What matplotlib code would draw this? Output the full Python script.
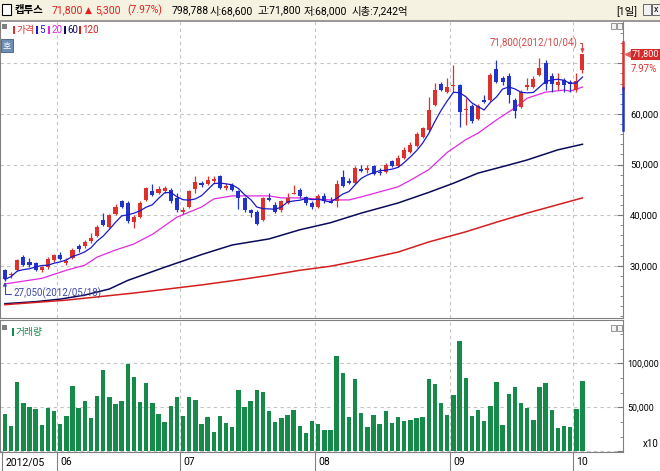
import matplotlib
matplotlib.use('Agg')
import matplotlib.pyplot as plt
import matplotlib.transforms as mtransforms
from matplotlib import font_manager
from matplotlib.patches import Rectangle
from matplotlib.ticker import MultipleLocator, FixedLocator, FuncFormatter
import numpy as np
import pandas as pd

names = {f.name for f in font_manager.fontManager.ttflist}
NARROW = 'Roboto' if 'Roboto' in names else 'DejaVu Sans'
FAM = [NARROW, 'Noto Sans CJK KR', 'DejaVu Sans']
plt.rcParams['font.family'] = FAM
KR = ['Noto Sans CJK KR', 'DejaVu Sans']

# daily candles, 2012/05/18 .. 2012/10/04
opens = [29100, 28100, 29100, 31800, 30800, 30600, 29100, 29700, 31100, 32100,
         30500, 31600, 33800, 33800, 34800, 35900, 39100, 37700, 40300, 42700,
         42400, 38600, 39700, 43000, 44700, 44300, 44700, 45000, 43300, 40700,
         41700, 45100, 46300, 46200, 46700, 47700, 45300, 46000, 44700, 43300,
         41000, 40700, 39100, 43300, 42000, 41000, 42300, 44200, 45000, 43500,
         42300, 41700, 43800, 42800, 42800, 47600, 46800, 46300, 49200, 49000,
         49700, 48600, 48600, 50600, 49700, 51200, 52400, 53700, 55400, 56800,
         61800, 65900, 64400, 65500, 65700, 60800, 61600, 59000, 62800, 62800,
         68800, 67000, 67400, 62800, 61400, 65300, 65400, 67700, 70000, 67500,
         65700, 66700, 66400, 64700, 68600]
highs = [29300, 28700, 31300, 32100, 31600, 30800, 30000, 31700, 32400, 32800,
         31500, 33500, 34300, 35100, 36400, 38000, 40400, 40300, 42100, 43000,
         42700, 40000, 42700, 45600, 46200, 45700, 45700, 45300, 44300, 41700,
         44900, 47700, 46700, 47800, 47800, 47900, 46300, 46300, 45000, 43600,
         41300, 41000, 43600, 44300, 42500, 43000, 44300, 46000, 45300, 43800,
         42700, 44100, 44300, 43600, 46900, 48900, 47300, 49700, 49900, 49900,
         49900, 49300, 50200, 50900, 51900, 53500, 54500, 56500, 57500, 63400,
         66100, 66300, 67000, 69700, 65900, 63100, 61900, 61900, 63700, 68000,
         70600, 67400, 68000, 63100, 64700, 67000, 67500, 71000, 70600, 68000,
         68000, 67000, 66700, 68000, 71800]
lows = [27050, 27600, 28900, 29900, 29800, 28900, 28800, 29400, 30800, 31200,
        30200, 31400, 32800, 33500, 34500, 35600, 37800, 37400, 40000, 41500,
        38500, 37500, 39400, 42700, 43800, 44100, 44300, 42400, 40700, 40300,
        41400, 44300, 45600, 45900, 46300, 45100, 45000, 44700, 41300, 40700,
        39700, 38100, 38900, 42700, 40500, 40700, 42100, 44100, 43400, 42000,
        41300, 41400, 42300, 42300, 41700, 45600, 46200, 46100, 48600, 48300,
        47900, 47900, 48400, 49500, 49500, 51000, 52200, 53500, 55200, 56500,
        61500, 64500, 64200, 64400, 57500, 57800, 58300, 58700, 62100, 62500,
        66200, 65700, 62100, 59100, 61200, 64700, 65200, 67400, 64700, 64400,
        64700, 64400, 64400, 64400, 68000]
closes = [27300, 28400, 31100, 30100, 30100, 29100, 29800, 31400, 32100, 31400,
          31000, 33200, 33400, 34700, 35400, 37700, 38100, 40000, 41700, 41700,
          38800, 39700, 42400, 45300, 44000, 45100, 45300, 42700, 41000, 41100,
          44700, 46500, 45900, 46900, 47100, 45300, 45700, 44900, 43300, 41000,
          40500, 38300, 43300, 43000, 40700, 42700, 43300, 44300, 43700, 42300,
          41700, 43800, 42700, 42400, 46100, 45800, 46300, 49400, 48700, 49400,
          48100, 48300, 49900, 49700, 51200, 52900, 53900, 56000, 57200, 60800,
          64800, 64800, 65300, 65700, 60300, 61000, 58600, 61600, 62400, 67700,
          66400, 66400, 63700, 60500, 64400, 65800, 66800, 69000, 66000, 66000,
          66400, 65800, 65900, 66500, 71800]
# volume in units of 10 shares
volumes = [42400, 28800, 78800, 54900, 50400, 48100, 29900, 49200, 45800, 31100,
           40200, 74200, 49200, 57200, 37900, 62900, 92400, 61700, 53800, 57200,
           99200, 84500, 56100, 77700, 54900, 42400, 33300, 51500, 61700, 40200,
           61700, 58300, 31100, 39000, 22000, 40200, 32200, 27700, 69700, 50400,
           57200, 69700, 67400, 45800, 33300, 37900, 41300, 47000, 28800, 20800,
           34500, 31100, 24200, 24200, 108300, 89000, 39000, 82200, 43600, 27700,
           41300, 31100, 45800, 32200, 39000, 34500, 35600, 37900, 39000, 82200,
           76500, 54900, 41300, 64000, 125400, 83300, 40200, 47000, 34500, 51500,
           78800, 29900, 65200, 73100, 54900, 49200, 35600, 73100, 77700, 47000,
           26500, 28800, 27700, 48100, 79900]

# moving averages (day index, value)
ma20_idx = [0, 6, 10, 13, 15, 18, 21, 24, 28, 32, 34, 37, 40, 43, 45, 48, 53, 56,
            58, 61, 64, 66, 69, 72, 75, 77, 80, 83, 85, 88, 91, 92, 94]
ma20_val = [26400, 27500, 29100, 30100, 31700, 33100, 34300, 36200, 39600, 41600,
            43200, 43800, 43800, 43800, 43400, 43400, 43000, 43000, 43600, 44600,
            45600, 46900, 49000, 52400, 54900, 56200, 58800, 61200, 63100, 64300,
            64700, 64500, 65300]
ma60_idx = [0, 5, 9, 13, 17, 20, 26, 32, 37, 43, 48, 53, 58, 64, 69, 73, 77, 82, 85, 90, 94]
ma60_val = [22500, 22900, 23400, 24200, 25400, 27100, 29700, 32200, 34100, 35300,
            37100, 38500, 40400, 42400, 44500, 46300, 48300, 49900, 50900, 52900, 54000]
ma120_idx = [0, 10, 21, 32, 38, 43, 48, 53, 58, 64, 69, 75, 80, 85, 91, 94]
ma120_val = [22300, 23200, 24600, 26200, 27200, 28100, 29100, 29900, 31100, 32700,
             34700, 36700, 38600, 40400, 42400, 43400]

month_labels = ['2012/05', '06', '07', '08', '09', '10']
month_start = [0, 9, 29, 51, 73, 93]

UP = '#E0302C'
DOWN = '#2233CC'
VOL = '#168A48'
GRID = '#C4C4C4'
EDGE = '#808080'

W, H = 660, 471
fig = plt.figure(figsize=(W / 100, H / 100), dpi=100)
fig.patch.set_facecolor('white')


def box(x0, y0, x1, y1):
    return [x0 / W, 1 - y1 / H, (x1 - x0) / W, (y1 - y0) / H]


def frect(x0, y0, x1, y1, **kw):
    fig.add_artist(Rectangle((x0 / W, 1 - y1 / H), (x1 - x0) / W, (y1 - y0) / H,
                             transform=fig.transFigure, **kw))


def ftext(x, y, s, **kw):
    fig.text(x / W, 1 - y / H, s, **kw)


# header bar
frect(0, 0, 660, 20, fc='#F5F2E1', ec='none')
frect(0, 20, 660, 22, fc='#9A9A9A', ec='none')
frect(2, 4, 11, 15, fc='white', ec='black', lw=0.8)
ftext(15, 10.5, '캡투스', fontsize=7.5, weight='bold', va='center', family=KR)
ftext(52, 10.5, '71,800', fontsize=7.5, color='#E02020', va='center')
ftext(85, 10.5, '▲', fontsize=6.5, color='#E02020', va='center', family=['DejaVu Sans'])
ftext(95, 10.5, '5,300', fontsize=7.5, color='#E02020', va='center')
ftext(127, 10.5, '(7.97%)', fontsize=7.5, color='#E02020', va='center')
ftext(172, 10.5, '798,788', fontsize=7.5, va='center')
ftext(210, 10.5, '시:68,600', fontsize=7.5, va='center')
ftext(257, 10.5, '고:71,800', fontsize=7.5, va='center')
ftext(304, 10.5, '저:68,000', fontsize=7.5, va='center')
ftext(352, 10.5, '시총:7,242억', fontsize=7.5, va='center')
ftext(616, 10.5, '[1일]', fontsize=7.5, va='center')
frect(643, 4, 651, 15, fc='#F2F2F2', ec='#505050', lw=0.6)
frect(652, 4, 660, 15, fc='#F2F2F2', ec='#505050', lw=0.6)
ftext(656, 10, 'x', fontsize=6.5, ha='center', va='center')

# price panel
ax = fig.add_axes(box(0, 22, 623, 318))
ax.set_xlim(-0.8, 100.6)
ax.set_ylim(19670, 78160)

idx = np.arange(len(closes))
o, h, l, c = map(np.array, (opens, highs, lows, closes))
col = np.where(c >= o, UP, DOWN)
ax.vlines(idx, l, h, colors=col, lw=0.9, zorder=4)
ax.bar(idx, np.maximum(np.abs(c - o), 200), bottom=np.minimum(o, c), width=0.66,
       color=col, lw=0, zorder=5)

ma5 = pd.Series(closes).rolling(5, min_periods=1).mean()
ax.plot(idx, ma5, color='#1A1AC8', lw=0.9, zorder=6)
ax.plot(ma20_idx, ma20_val, color='#E22AE2', lw=0.9, zorder=3)
ax.plot(ma60_idx, ma60_val, color='#0A0A5A', lw=1.1, zorder=3)
ax.plot(ma120_idx, ma120_val, color='#D41E1E', lw=1.1, zorder=3)

for m in month_start[1:]:
    ax.axvline(m - 0.5, color=GRID, lw=0.8, ls=(0, (3, 3)), zorder=1)
ax.yaxis.tick_right()
ax.yaxis.set_major_locator(FixedLocator([30000, 40000, 50000, 60000, 70000]))
ax.yaxis.set_minor_locator(MultipleLocator(2000))
ax.yaxis.set_major_formatter(FuncFormatter(lambda v, p: f'{int(v):,}' if v < 65000 else ''))
ax.grid(axis='y', which='major', color=GRID, lw=0.8, ls=(0, (3, 3)), zorder=1)
ax.tick_params(axis='y', which='both', direction='in', color='#777777', labelsize=6.8, pad=5)
ax.tick_params(axis='y', which='major', length=4)
ax.tick_params(axis='y', which='minor', length=2)
ax.set_xticks([])
for s in ['left', 'right', 'bottom']:
    ax.spines[s].set_color(EDGE)
ax.spines['top'].set_visible(False)

blend = mtransforms.blended_transform_factory(ax.transAxes, ax.transData)
ax.plot([1, 1], [65100, 74200], color=UP, lw=1.8, transform=blend, clip_on=False, zorder=7)
ax.plot([1, 1], [56800, 65100], color=DOWN, lw=1.8, transform=blend, clip_on=False, zorder=7)
ax.plot([1 + 5 / 623], [closes[-1]], marker='<', ms=4.5, color='#E06060', transform=blend,
        clip_on=False)
ax.text(1 + 9 / 623, closes[-1], f'{closes[-1]:,}', transform=blend, color='white',
        fontsize=6.6, ha='left', va='center',
        bbox=dict(boxstyle='square,pad=0.12', fc='#D42A2A', ec='none'))
ftext(657, 69, '7.97%', fontsize=7, color='#E03030', ha='right', va='center')

hi = int(np.argmax(h))
lo = int(np.argmin(l))
ax.annotate(f'{highs[hi]:,}(2012/10/04)', xy=(hi, highs[hi]), xytext=(-5, 11),
            textcoords='offset pixels', ha='right', va='center', fontsize=7, color='#D84848',
            arrowprops=dict(arrowstyle='-|>', color='#D84848', lw=0.8, mutation_scale=5,
                            connectionstyle='angle,angleA=0,angleB=90,rad=0',
                            shrinkA=0, shrinkB=1, relpos=(1, 0.5)))
ax.annotate(f'{lows[lo]:,}(2012/05/18)', xy=(lo, lows[lo]), xytext=(9, -13),
            textcoords='offset pixels', ha='left', va='center', fontsize=7, color='#3A48A8',
            arrowprops=dict(arrowstyle='-|>', color='#3A48A8', lw=0.8, mutation_scale=5,
                            connectionstyle='angle,angleA=0,angleB=90,rad=0',
                            shrinkA=0, shrinkB=1, relpos=(0, 0.5)))

# price legend and icons
frect(2, 24, 7, 29, fc='#808080', ec='none')
legend = [('가격', UP, 13), ('5', '#1A1AC8', 36), ('20', '#E22AE2', 48),
          ('60', '#0A0A5A', 64), ('120', '#D41E1E', 79)]
for name, color, lx in legend:
    frect(lx, 26, lx + 2, 34, fc=color, ec='none')
    ftext(lx + 3, 30, name, fontsize=7, color=color, va='center')
frect(1, 39, 13, 52, fc='#6E8EB5', ec='#3E5E85', lw=0.6)
ftext(7, 45.5, '호', fontsize=6.5, color='white', ha='center', va='center', family=KR)
for bx in (611, 617):
    frect(bx, 23, bx + 5, 29, fc='#F2F2F2', ec='#707070', lw=0.5)
    frect(bx, 325, bx + 5, 331, fc='#F2F2F2', ec='#707070', lw=0.5)

# volume panel
vax = fig.add_axes(box(0, 320, 623, 452))
vax.set_xlim(-0.8, 100.6)
vax.set_ylim(-800, 149200)
vax.bar(idx, volumes, width=0.72, color=VOL, lw=0, zorder=3)
for m in month_start[1:]:
    vax.axvline(m - 0.5, color=GRID, lw=0.8, ls=(0, (3, 3)), zorder=1)
vax.yaxis.tick_right()
vax.yaxis.set_major_locator(MultipleLocator(50000))
vax.yaxis.set_minor_locator(MultipleLocator(50000 / 3))
vax.yaxis.set_major_formatter(FuncFormatter(lambda v, p: f'{int(v):,}' if v > 0 else ''))
vax.grid(axis='y', which='major', color=GRID, lw=0.8, ls=(0, (3, 3)), zorder=1)
vax.tick_params(axis='y', which='both', direction='in', color='#777777', labelsize=6.4, pad=3)
vax.tick_params(axis='y', which='major', length=4)
vax.tick_params(axis='y', which='minor', length=2)
vax.set_xticks([])
for s in vax.spines.values():
    s.set_color(EDGE)
ftext(643, 444, 'x10', fontsize=7, ha='left', va='center')
frect(2, 325, 7, 330, fc='#808080', ec='none')
frect(12, 328, 14, 336, fc=VOL, ec='none')
ftext(16, 332, '거래량', fontsize=7, color=VOL, va='center', family=KR)

# month axis under the volume panel
vblend = mtransforms.blended_transform_factory(vax.transData, vax.transAxes)
for m, lab in zip(month_start, month_labels):
    vax.plot([m - 0.5, m - 0.5], [0, -19 / 132], color=EDGE, lw=0.8, transform=vblend, clip_on=False)
    vax.text(m - 0.5 + 0.55, -10 / 132, lab, transform=vblend, fontsize=7.5, ha='left', va='center')

fig.savefig('out.png', dpi=100)
